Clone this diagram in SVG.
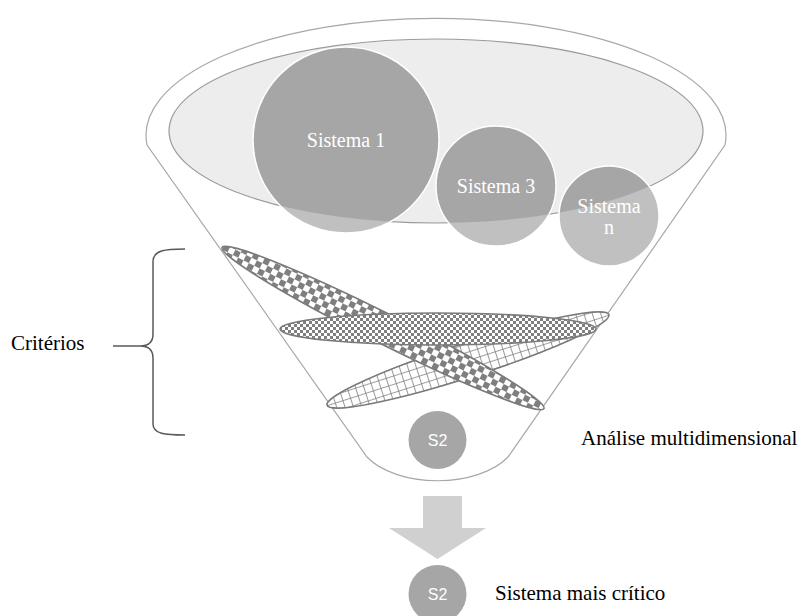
<svg xmlns="http://www.w3.org/2000/svg" width="798" height="616" viewBox="0 0 798 616">
  <style>
    .lbl { font-family: "Liberation Serif", "Times New Roman", serif; font-size: 21px; fill: #000; }
    .sys { font-family: "Liberation Serif", "Times New Roman", serif; font-size: 20px; fill: #fff; text-anchor: middle; }
    .s2 { font-family: "Liberation Sans", Arial, sans-serif; font-size: 16px; fill: #fff; text-anchor: middle; }
    .crit { stroke: #7a7a7a; stroke-width: 1.6; }
    .cl { fill: #c0c0c0; }
    .cd { fill: #a6a6a6; }
    .cs { fill: none; stroke: #fff; stroke-width: 1.5; }
  </style>
  <defs>
    <pattern id="coarse" patternUnits="userSpaceOnUse" width="12" height="12">
      <rect width="12" height="12" fill="#fff"/>
      <rect x="0" y="0" width="6" height="6" fill="#7f7f7f"/>
      <rect x="6" y="6" width="6" height="6" fill="#7f7f7f"/>
    </pattern>
    <pattern id="fine" patternUnits="userSpaceOnUse" width="6" height="6">
      <rect width="6" height="6" fill="#fff"/>
      <rect x="0" y="0" width="3" height="3" fill="#7f7f7f"/>
      <rect x="3" y="3" width="3" height="3" fill="#7f7f7f"/>
    </pattern>
    <pattern id="grid" patternUnits="userSpaceOnUse" width="8" height="8">
      <rect width="8" height="8" fill="#fff"/>
      <path d="M0,0 V8 M0,0 H8" stroke="#808080" stroke-width="1.6"/>
    </pattern>
    <clipPath id="innerClip">
      <ellipse cx="436" cy="131" rx="267" ry="92"/>
    </clipPath>
  </defs>

  <rect width="798" height="616" fill="#fff"/>

  <g id="funnel">
    <path d="M147,145 A290,117 0 1 1 725,145 L508,457 A80,45 0 0 1 367,457 Z" fill="#fff" stroke="#a8a8a8" stroke-width="1.2"/>
    <ellipse cx="436" cy="131" rx="267" ry="92" fill="#ededed" stroke="#9a9a9a" stroke-width="1.2"/>
  </g>

  <g id="sistema1">
    <circle class="cl" cx="346" cy="140" r="93"/>
    <circle class="cd" cx="346" cy="140" r="93" clip-path="url(#innerClip)"/>
    <circle class="cs" cx="346" cy="140" r="93"/>
    <text class="sys" x="346" y="147">Sistema 1</text>
  </g>
  <g id="sistema3">
    <circle class="cl" cx="496" cy="186" r="60"/>
    <circle class="cd" cx="496" cy="186" r="60" clip-path="url(#innerClip)"/>
    <circle class="cs" cx="496" cy="186" r="60"/>
    <text class="sys" x="496" y="193">Sistema 3</text>
  </g>
  <g id="sisteman">
    <circle class="cl" cx="609" cy="216" r="50"/>
    <circle class="cd" cx="609" cy="216" r="50" clip-path="url(#innerClip)"/>
    <circle class="cs" cx="609" cy="216" r="50"/>
    <text class="sys" x="609" y="213">Sistema</text>
    <text class="sys" x="609" y="234">n</text>
  </g>

  <g id="criteria">
    <ellipse class="crit" cx="468" cy="360" rx="148" ry="17" transform="rotate(-17.8 468 360)" fill="url(#grid)"/>
    <ellipse class="crit" cx="383" cy="328" rx="180" ry="15" transform="rotate(26.6 383 328)" fill="url(#coarse)"/>
    <ellipse class="crit" cx="438" cy="329" rx="158" ry="16" fill="url(#fine)"/>
  </g>

  <g id="s2-funnel">
    <circle cx="437.5" cy="440" r="29" fill="#a6a6a6"/>
    <text class="s2" x="437.5" y="446">S2</text>
  </g>

  <g id="connectors">
    <path d="M423,496 H462 V528 H486 L437.5,559 L389,528 H423 Z" fill="#d0d0d0"/>
    <path d="M185,249 C165,249 153,250 153,262 L153,334 C153,342 149,346 140,346 L113,346 M140,346 C149,346 153,350 153,358 L153,424 C153,434 165,435 185,435" fill="none" stroke="#595959" stroke-width="1.5"/>
  </g>

  <g id="s2-result">
    <circle cx="437.5" cy="594" r="29" fill="#a6a6a6"/>
    <text class="s2" x="437.5" y="600">S2</text>
  </g>

  <g id="labels">
    <text class="lbl" x="11" y="350">Critérios</text>
    <text class="lbl" x="581" y="445">Análise multidimensional</text>
    <text class="lbl" x="495" y="600">Sistema mais crítico</text>
  </g>
</svg>
